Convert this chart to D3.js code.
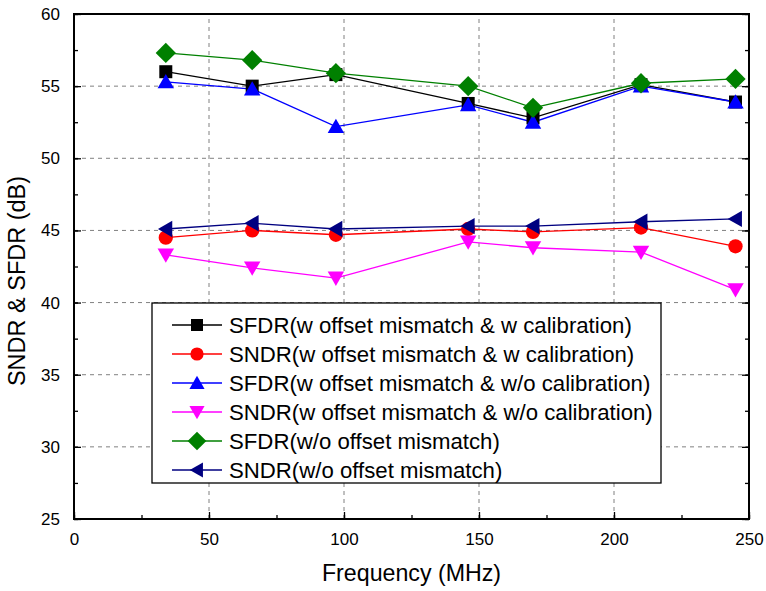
<!DOCTYPE html>
<html>
<head>
<meta charset="utf-8">
<script src="https://d3js.org/d3.v7.min.js"></script>
<style>
  body { margin: 0; background: #fff; }
  svg { font-family: "Liberation Sans", Arial, sans-serif; }
</style>
</head>
<body>
<div id="vis"></div>
<script>
const WIDTH = 766;
const HEIGHT = 591;
const MARGIN = {left: 74, right: 17, top: 14, bottom: 72};

// frequency (MHz)
const freq = [34, 66, 97, 146, 170, 210, 245];

const sfdrWCal = [56.0, 55.0, 55.8, 53.8, 52.8, 55.1, 53.9];
const sndrWCal = [44.5, 45.0, 44.7, 45.1, 44.9, 45.2, 43.9];
const sfdrWoCal = [55.3, 54.8, 52.2, 53.7, 52.5, 55.0, 53.9];
const sndrWoCal = [43.3, 42.4, 41.7, 44.2, 43.8, 43.5, 40.9];
const sfdrNoOffset = [57.3, 56.8, 55.9, 55.0, 53.5, 55.2, 55.5];
const sndrNoOffset = [45.1, 45.5, 45.1, 45.3, 45.3, 45.6, 45.8];

const seriesNames = [
  "SFDR(w offset mismatch & w calibration)",
  "SNDR(w offset mismatch & w calibration)",
  "SFDR(w offset mismatch & w/o calibration)",
  "SNDR(w offset mismatch & w/o calibration)",
  "SFDR(w/o offset mismatch)",
  "SNDR(w/o offset mismatch)"
];
const seriesValues = [sfdrWCal, sndrWCal, sfdrWoCal, sndrWoCal, sfdrNoOffset, sndrNoOffset];
const seriesColors = ["#000000", "#ff0000", "#0000ff", "#ff00ff", "#008000", "#000080"];
const seriesSymbols = ["square", "circle", "triUp", "triDown", "diamond", "triLeft"];

const xTicks = [0, 50, 100, 150, 200, 250];
const yTicks = [25, 30, 35, 40, 45, 50, 55, 60];

const FRAME = d3.select("#vis")
  .append("svg")
    .attr("width", WIDTH)
    .attr("height", HEIGHT);

const X_SCALE = d3.scaleLinear()
  .domain([0, 250])
  .range([MARGIN.left, WIDTH - MARGIN.right]);

const Y_SCALE = d3.scaleLinear()
  .domain([25, 60])
  .range([HEIGHT - MARGIN.bottom, MARGIN.top]);

const x0 = X_SCALE(0), x1 = X_SCALE(250);
const y0 = Y_SCALE(25), y1 = Y_SCALE(60);

// dashed grid
FRAME.append("g")
  .selectAll("line")
  .data(xTicks.filter(d => d > 0 && d < 250))
  .enter().append("line")
    .attr("x1", d => X_SCALE(d)).attr("x2", d => X_SCALE(d))
    .attr("y1", y0).attr("y2", y1)
    .attr("stroke", "#808080").attr("stroke-width", 1)
    .attr("stroke-dasharray", "4,4");

FRAME.append("g")
  .selectAll("line")
  .data(yTicks.filter(d => d > 25 && d < 60))
  .enter().append("line")
    .attr("x1", x0).attr("x2", x1)
    .attr("y1", d => Y_SCALE(d)).attr("y2", d => Y_SCALE(d))
    .attr("stroke", "#808080").attr("stroke-width", 1)
    .attr("stroke-dasharray", "4,4");

// axes with inward ticks
function styleAxis(g) {
  g.select(".domain").remove();
  g.selectAll("line").attr("stroke", "#000").attr("stroke-width", 1.3);
}

const minorX = d3.range(0, 251, 25);
const minorY = d3.range(25, 60.1, 2.5);

FRAME.append("g")
  .attr("transform", "translate(0," + y0 + ")")
  .call(d3.axisBottom(X_SCALE).tickValues(minorX).tickSize(-4).tickFormat(""))
  .call(styleAxis);
FRAME.append("g")
  .attr("transform", "translate(0," + y0 + ")")
  .call(d3.axisBottom(X_SCALE).tickValues(xTicks).tickSize(-7).tickPadding(14).tickFormat(d3.format("d")))
  .call(styleAxis)
  .call(g => g.selectAll("text").attr("font-size", "17px").attr("fill", "#000")
    .attr("font-family", "Liberation Sans, Arial, sans-serif"));

FRAME.append("g")
  .attr("transform", "translate(" + x0 + ",0)")
  .call(d3.axisLeft(Y_SCALE).tickValues(minorY).tickSize(-4).tickFormat(""))
  .call(styleAxis);
FRAME.append("g")
  .attr("transform", "translate(" + x0 + ",0)")
  .call(d3.axisLeft(Y_SCALE).tickValues(yTicks).tickSize(-7).tickPadding(14).tickFormat(d3.format("d")))
  .call(styleAxis)
  .call(g => g.selectAll("text").attr("font-size", "17px").attr("fill", "#000")
    .attr("font-family", "Liberation Sans, Arial, sans-serif"));

FRAME.append("g")
  .attr("transform", "translate(" + x1 + ",0)")
  .call(d3.axisRight(Y_SCALE).tickValues(minorY).tickSize(-4).tickFormat(""))
  .call(styleAxis);
FRAME.append("g")
  .attr("transform", "translate(" + x1 + ",0)")
  .call(d3.axisRight(Y_SCALE).tickValues(yTicks).tickSize(-7).tickFormat(""))
  .call(styleAxis);

// frame
FRAME.append("rect")
  .attr("x", x0).attr("y", y1)
  .attr("width", x1 - x0).attr("height", y0 - y1)
  .attr("fill", "none").attr("stroke", "#000").attr("stroke-width", 2);

// symbols
function symbolPath(kind, s) {
  if (kind === "square") return d3.symbol().type(d3.symbolSquare).size(s * s * 1.0)();
  if (kind === "circle") return d3.symbol().type(d3.symbolCircle).size(s * s * 0.95)();
  if (kind === "diamond") {
    const r = s * 0.78;
    return "M0," + (-r) + "L" + r + ",0L0," + r + "L" + (-r) + ",0Z";
  }
  const h = s * 0.55;
  if (kind === "triUp") return "M0," + (-h * 1.1) + "L" + (h * 1.15) + "," + (h * 0.9) + "L" + (-h * 1.15) + "," + (h * 0.9) + "Z";
  if (kind === "triDown") return "M0," + (h * 1.1) + "L" + (h * 1.15) + "," + (-h * 0.9) + "L" + (-h * 1.15) + "," + (-h * 0.9) + "Z";
  if (kind === "triLeft") return "M" + (-h * 1.1) + ",0L" + (h * 0.9) + "," + (-h * 1.15) + "L" + (h * 0.9) + "," + (h * 1.15) + "Z";
}

const line = d3.line()
  .x((d, i) => X_SCALE(freq[i]))
  .y(d => Y_SCALE(d));

seriesValues.forEach((vals, k) => {
  FRAME.append("path")
    .datum(vals)
    .attr("d", line)
    .attr("fill", "none")
    .attr("stroke", seriesColors[k])
    .attr("stroke-width", 1.3);
});

seriesValues.forEach((vals, k) => {
  FRAME.append("g")
    .selectAll("path")
    .data(vals)
    .enter().append("path")
      .attr("transform", (d, i) => "translate(" + X_SCALE(freq[i]) + "," + Y_SCALE(d) + ")")
      .attr("d", symbolPath(seriesSymbols[k], 13))
      .attr("fill", seriesColors[k]);
});

// legend
const LEG = {x: 152, y: 303, w: 509, h: 180, row: 29};
const legend = FRAME.append("g");
legend.append("rect")
  .attr("x", LEG.x).attr("y", LEG.y)
  .attr("width", LEG.w).attr("height", LEG.h)
  .attr("fill", "#fff").attr("stroke", "#000").attr("stroke-width", 1.3);

seriesNames.forEach((name, k) => {
  const cy = LEG.y + 22 + k * LEG.row;
  legend.append("line")
    .attr("x1", LEG.x + 20).attr("x2", LEG.x + 70)
    .attr("y1", cy).attr("y2", cy)
    .attr("stroke", seriesColors[k]).attr("stroke-width", 1.3);
  legend.append("path")
    .attr("transform", "translate(" + (LEG.x + 45) + "," + cy + ")")
    .attr("d", symbolPath(seriesSymbols[k], 12))
    .attr("fill", seriesColors[k]);
  legend.append("text")
    .attr("x", LEG.x + 77).attr("y", cy)
    .attr("dy", "0.36em")
    .attr("font-size", "22.2px")
    .text(name);
});

// axis titles
FRAME.append("text")
  .attr("x", (x0 + x1) / 2).attr("y", 581)
  .attr("text-anchor", "middle")
  .attr("font-size", "23.2px")
  .text("Frequency (MHz)");

FRAME.append("text")
  .attr("transform", "translate(25,281) rotate(-90)")
  .attr("text-anchor", "middle")
  .attr("font-size", "23.5px")
  .text("SNDR & SFDR (dB)");
</script>
</body>
</html>
